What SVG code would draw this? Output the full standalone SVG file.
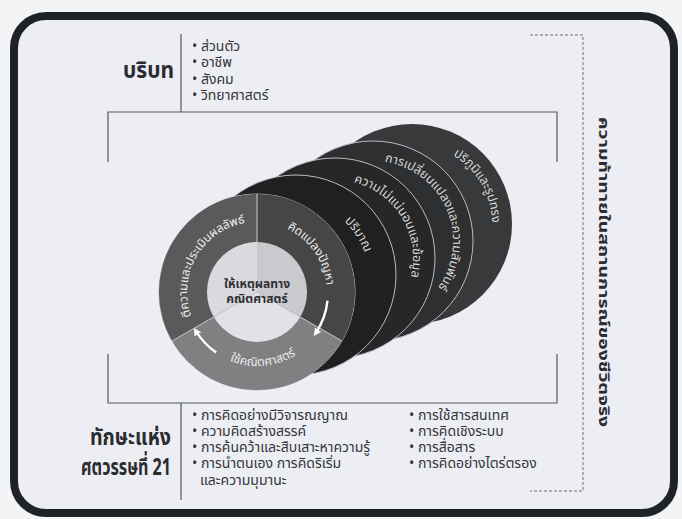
<svg xmlns="http://www.w3.org/2000/svg" width="682" height="519" viewBox="0 0 682 519">
<style>
  text { font-family: "Noto Sans Thai", "Noto Sans Thai UI", "Noto Sans", "DejaVu Sans", sans-serif; }
  .head { font-size: 23px; font-weight: 700; fill: #2a2c30; }
  .item { font-size: 14px; fill: #33353a; }
  .disc { fill: #d6d6d6; font-size: 12.5px; }
  .ringt { fill: #ececec; font-size: 12px; }
  .frame { stroke: #55585e; stroke-width: 1.2; fill: none; }
  .dash { stroke: #6c6f75; stroke-width: 1; fill: none; stroke-dasharray: 3 2; }
  .edge { stroke: #b9bcc2; stroke-width: 1; }
  .sep { stroke: #c9cbcf; stroke-width: 1; fill: none; }
  .arr { stroke: #ffffff; stroke-width: 2.4; fill: none; marker-end: url(#ah); }
</style>
<defs>
  <marker id="ah" viewBox="0 0 10 10" refX="6" refY="5" markerWidth="3.2" markerHeight="3.2" orient="auto" markerUnits="strokeWidth">
    <path d="M0,0 L10,5 L0,10 Z" fill="#ffffff"/>
  </marker>
  <path id="pD1" d="M308.5,204.1 A72,72 0 0 1 365.9,292.4"/>
  <path id="pD2" d="M335,180 A78,78 0 0 1 403.9,294.6"/>
  <path id="pD3" d="M359.1,162.2 A80,80 0 0 1 420,305.7"/>
  <path id="pD4" d="M425.9,145.2 A80,80 0 0 1 487.2,251.4"/>
  <path id="pTR" d="M250.9,222.3 A70,70 0 0 1 320.4,321.6"/>
  <path id="pTL" d="M196.4,327 A70,70 0 0 1 257,222"/>
  <path id="pB" d="M200.3,339.6 A74,74 0 0 0 321.1,329"/>
</defs>

<rect x="0" y="0" width="682" height="519" fill="#f3f4f6"/>
<g id="border">
  <rect x="14" y="16" width="660" height="497" rx="32" ry="32" fill="#eceef3" stroke="#1f2227" stroke-width="8"/>
</g>

<g id="context">
  <text class="head" x="123" y="78" textLength="51" lengthAdjust="spacingAndGlyphs">บริบท</text>
  <line x1="181" y1="34" x2="181" y2="112" class="frame"/>
  <text class="item" x="192" y="51">• ส่วนตัว</text>
  <text class="item" x="192" y="67">• อาชีพ</text>
  <text class="item" x="192" y="84">• สังคม</text>
  <text class="item" x="192" y="100">• วิทยาศาสตร์</text>
</g>

<g id="frame">
  <path class="frame" d="M108,162 V112 H557 V162"/>
  <path class="frame" d="M108,354 V403 H557 V354"/>
</g>

<g id="challenge">
  <path class="dash" d="M530,35 H583 V491 H530"/>
  <text x="0" y="0" transform="translate(599,272) rotate(90)" text-anchor="middle" textLength="310" lengthAdjust="spacingAndGlyphs" style="font-size:14px;font-weight:700;fill:#2a2c30">ความท้าทายในสถานการณ์ของชีวิตจริง</text>
</g>

<g id="disc4">
  <circle cx="412" cy="224" r="100" fill="#38393b"/>
  <text class="disc"><textPath href="#pD4" startOffset="50%" text-anchor="middle">ปริภูมิและรูปทรง</textPath></text>
</g>
<g id="disc3">
  <circle cx="373" cy="241" r="100" fill="#2e2f31" class="edge"/>
  <text class="disc"><textPath href="#pD3" startOffset="50%" text-anchor="middle">การเปลี่ยนแปลงและความสัมพันธ์</textPath></text>
</g>
<g id="disc2">
  <circle cx="335" cy="258" r="100" fill="#272728" class="edge"/>
  <text class="disc"><textPath href="#pD2" startOffset="50%" text-anchor="middle">ความไม่แน่นอนและข้อมูล</textPath></text>
</g>
<g id="disc1">
  <circle cx="296" cy="275" r="100" fill="#202021" class="edge"/>
  <text class="disc"><textPath href="#pD1" startOffset="50%" text-anchor="middle">ปริมาณ</textPath></text>
</g>

<g id="cycle">
  <circle cx="257" cy="292" r="98" fill="#4a4a4a" class="edge"/>
  <path d="M257,194 A98,98 0 0 1 341.9,341 L300.3,317 A50,50 0 0 0 257,242 Z" fill="#464646"/>
  <path d="M341.9,341 A98,98 0 0 1 172.1,341 L213.7,317 A50,50 0 0 0 300.3,317 Z" fill="#808082"/>
  <path d="M172.1,341 A98,98 0 0 1 257,194 L257,242 A50,50 0 0 0 213.7,317 Z" fill="#5a5a5b"/>
  <path d="M257,292 L257,242 A50,50 0 0 1 300.3,317 Z" fill="#c9cacd"/>
  <path d="M257,292 L300.3,317 A50,50 0 0 1 213.7,317 Z" fill="#e1e2e6"/>
  <path d="M257,292 L213.7,317 A50,50 0 0 1 257,242 Z" fill="#d9dade"/>
  <path class="sep" d="M257,194 V242 M341.9,341 L300.3,317 M172.1,341 L213.7,317"/>
  <text class="ringt"><textPath href="#pTR" startOffset="50%" text-anchor="middle">คิดแปลงปัญหา</textPath></text>
  <text class="ringt"><textPath href="#pTL" startOffset="50%" text-anchor="middle">ตีความและประเมินผลลัพธ์</textPath></text>
  <text class="ringt"><textPath href="#pB" startOffset="50%" text-anchor="middle">ใช้คณิตศาสตร์</textPath></text>
  <text x="257" y="288" text-anchor="middle" style="font-size:12px;font-weight:700;fill:#2e2f33">ให้เหตุผลทาง</text>
  <text x="257" y="303" text-anchor="middle" style="font-size:12px;font-weight:700;fill:#2e2f33">คณิตศาสตร์</text>
</g>

<g id="connectors">
  <path class="arr" d="M327.5,300.7 A71,71 0 0 1 315.5,333.5"/>
  <path class="arr" d="M216.2,352.5 A73,73 0 0 1 195.5,330.5"/>
</g>

<g id="skills">
  <text class="head" x="90" y="445" textLength="81" lengthAdjust="spacingAndGlyphs">ทักษะแห่ง</text>
  <text class="head" x="81" y="475" textLength="90" lengthAdjust="spacingAndGlyphs">ศตวรรษที่ 21</text>
  <line x1="181" y1="403" x2="181" y2="500" class="frame"/>
  <text class="item" x="192" y="420">• การคิดอย่างมีวิจารณญาณ</text>
  <text class="item" x="192" y="436">• ความคิดสร้างสรรค์</text>
  <text class="item" x="192" y="452">• การค้นคว้าและสืบเสาะหาความรู้</text>
  <text class="item" x="192" y="468">• การนำตนเอง การคิดริเริ่ม</text>
  <text class="item" x="200" y="485">และความมุมานะ</text>
  <text class="item" x="409" y="420">• การใช้สารสนเทศ</text>
  <text class="item" x="409" y="436">• การคิดเชิงระบบ</text>
  <text class="item" x="409" y="452">• การสื่อสาร</text>
  <text class="item" x="409" y="468">• การคิดอย่างไตร่ตรอง</text>
</g>
</svg>
